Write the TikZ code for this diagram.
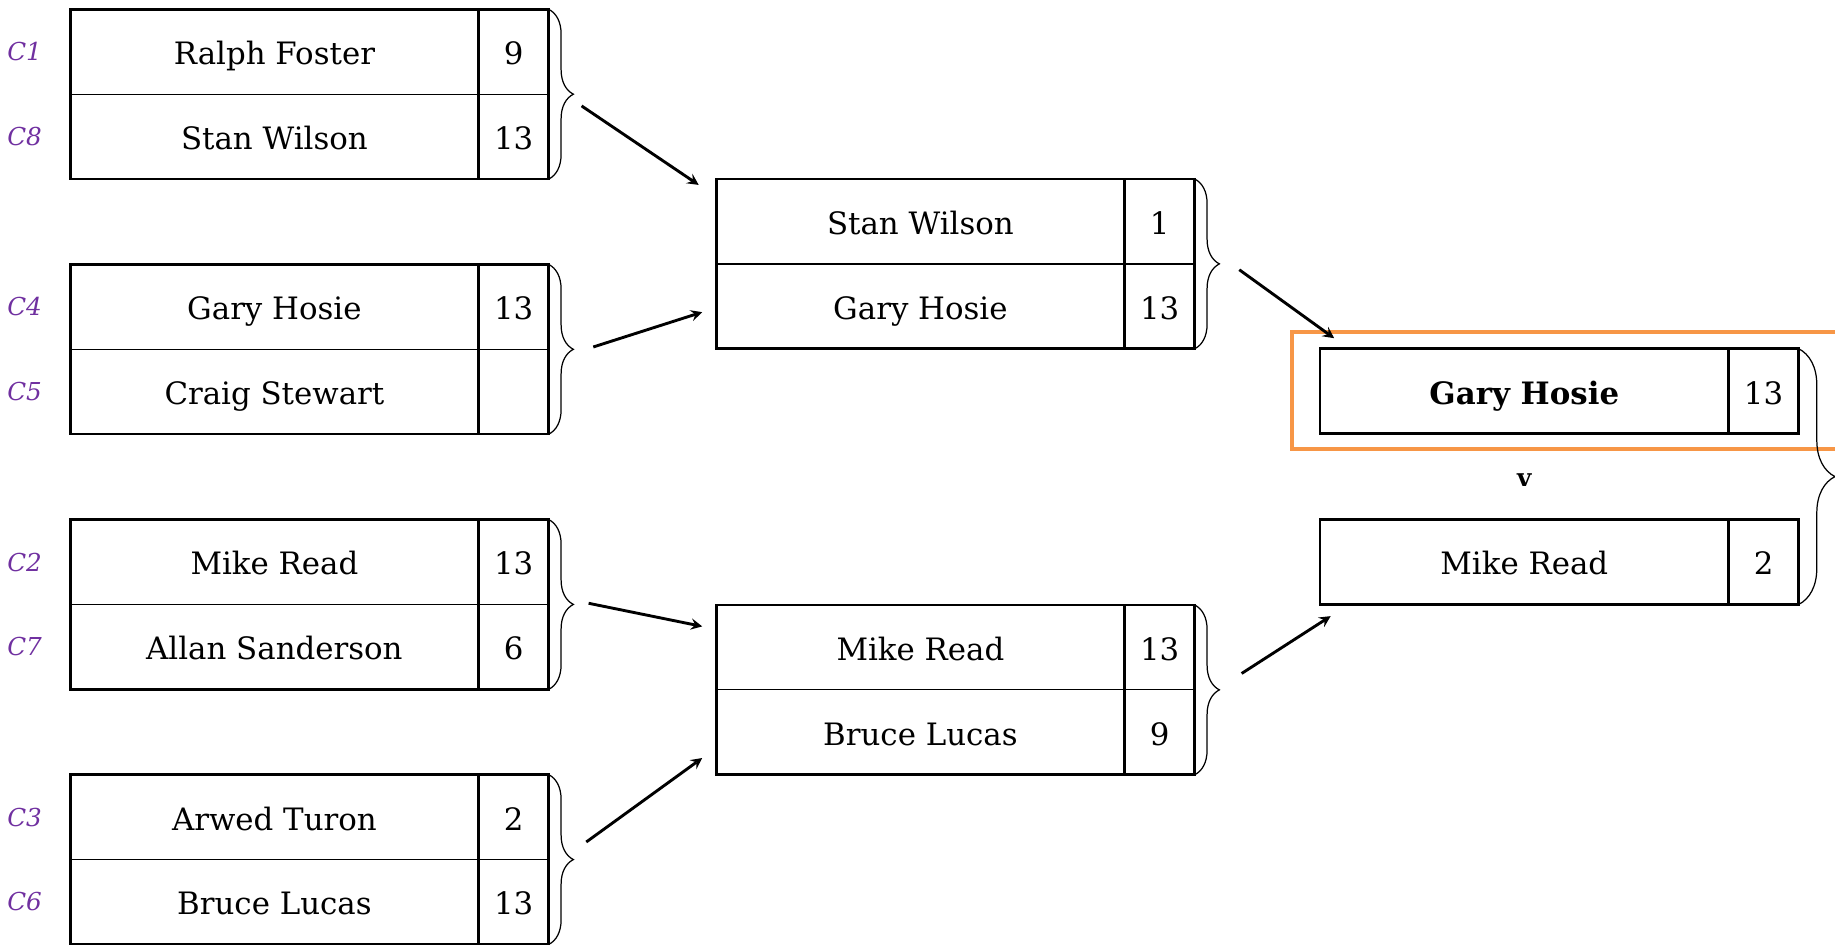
\documentclass[tikz,border=0pt]{standalone}
\usepackage[dvipsnames]{xcolor}
\usepackage{fontspec}
\setmainfont{DejaVu Serif}
\usetikzlibrary{positioning,calc,decorations.pathreplacing}
\definecolor{seedpurple}{RGB}{112,48,160}
\definecolor{winorange}{RGB}{247,150,70}

\begin{document}
\begin{tikzpicture}[x=0.02cm,y=-0.02cm,>=stealth,
    name cell/.style={draw,line width=0.6pt,minimum width=6.98cm,minimum height=1.45cm,inner sep=0pt,outer sep=0pt,text height=0.56cm,text depth=0.12cm,font=\fontsize{15}{18}\selectfont},
    score cell/.style={name cell,minimum width=1.2cm},
    seed/.style={font=\fontsize{12}{14}\selectfont\itshape,text=seedpurple},
    box line/.style={line width=1.3pt},
    bracket/.style={decorate,decoration={brace,amplitude=#1},line width=0.6pt},
    bracket/.default=0.42cm,
    win arrow/.style={->,line width=1.4pt}]
    \useasboundingbox (0,0) rectangle (1568,807);

    % first round
    \node[name cell] (c1) at (234.5,44.25) {Ralph Foster};
    \node[score cell] (c1s) [right=0pt of c1] {9};
    \node[name cell] (c8) [below=0pt of c1] {Stan Wilson};
    \node[score cell] (c8s) [right=0pt of c8] {13};

    \node[name cell] (c4) at (234.5,262.25) {Gary Hosie};
    \node[score cell] (c4s) [right=0pt of c4] {13};
    \node[name cell] (c5) [below=0pt of c4] {Craig Stewart};
    \node[score cell] (c5s) [right=0pt of c5] {};

    \node[name cell] (c2) at (234.5,480.25) {Mike Read};
    \node[score cell] (c2s) [right=0pt of c2] {13};
    \node[name cell] (c7) [below=0pt of c2] {Allan Sanderson};
    \node[score cell] (c7s) [right=0pt of c7] {6};

    \node[name cell] (c3) at (234.5,698.25) {Arwed Turon};
    \node[score cell] (c3s) [right=0pt of c3] {2};
    \node[name cell] (c6) [below=0pt of c3] {Bruce Lucas};
    \node[score cell] (c6s) [right=0pt of c6] {13};

    % seed labels
    \node[seed] (l1) [left=0.36cm of c1] {C1};
    \node[seed] (l8) [left=0.36cm of c8] {C8};
    \node[seed] (l4) [left=0.36cm of c4] {C4};
    \node[seed] (l5) [left=0.36cm of c5] {C5};
    \node[seed] (l2) [left=0.36cm of c2] {C2};
    \node[seed] (l7) [left=0.36cm of c7] {C7};
    \node[seed] (l3) [left=0.36cm of c3] {C3};
    \node[seed] (l6) [left=0.36cm of c6] {C6};

    % second round
    \node[name cell] (m1) at (786.5,189.25) {Stan Wilson};
    \node[score cell] (m1s) [right=0pt of m1] {1};
    \node[name cell] (m2) [below=0pt of m1] {Gary Hosie};
    \node[score cell] (m2s) [right=0pt of m2] {13};

    \node[name cell] (m3) at (786.5,553.25) {Mike Read};
    \node[score cell] (m3s) [right=0pt of m3] {13};
    \node[name cell] (m4) [below=0pt of m3] {Bruce Lucas};
    \node[score cell] (m4s) [right=0pt of m4] {9};

    % final
    \node[name cell,font=\fontsize{15}{18}\selectfont\bfseries] (f1) at (1302.5,334.25) {Gary Hosie};
    \node[score cell] (f1s) [right=0pt of f1] {13};
    \node[font=\fontsize{12}{14}\selectfont\bfseries] (vs) at (1302.5,410) {v};
    \node[name cell] (f2) at (1302.5,480.25) {Mike Read};
    \node[score cell] (f2s) [right=0pt of f2] {2};

    % thick outlines
    \foreach \a/\b in {c1/c8,c4/c5,c2/c7,c3/c6,m1/m2,m3/m4,f1/f1,f2/f2}{
        \draw[box line] (\a.north west) rectangle (\b s.south east);
        \draw[box line] (\a s.north west) -- (\b s.south west);
    }

    \draw[winorange,line width=2.2pt] (1580,283.5) -- (1104,283.5) -- (1104,383.5) -- (1580,383.5);

    % braces
    \draw[bracket] (c1s.north east) -- (c8s.south east);
    \draw[bracket] (c4s.north east) -- (c5s.south east);
    \draw[bracket] (c2s.north east) -- (c7s.south east);
    \draw[bracket] (c3s.north east) -- (c6s.south east);
    \draw[bracket] (m1s.north east) -- (m2s.south east);
    \draw[bracket] (m3s.north east) -- (m4s.south east);
    \draw[bracket=0.62cm] (f1s.north east) -- (f2s.south east);

    % arrow ends
    \coordinate (a1) at ($(c1s.south east)+(28,10)$);
    \coordinate (b1) at ($(m1.north west)+(-15,5)$);
    \coordinate (a2) at ($(c4s.south east)+(38,-2)$);
    \coordinate (b2) at ($(m2.west)+(-12,5)$);
    \coordinate (a3) at ($(c2s.south east)+(34,-1)$);
    \coordinate (b3) at ($(m3.west)+(-12,-18)$);
    \coordinate (a4) at ($(c3s.south east)+(32,-15)$);
    \coordinate (b4) at ($(m4.west)+(-12,22)$);
    \coordinate (a5) at ($(m1s.south east)+(38,5)$);
    \coordinate (b5) at ($(f1.north west)+(12,-9)$);
    \coordinate (a6) at ($(m3s.south east)+(40,-14)$);
    \coordinate (b6) at ($(f2.south west)+(9,10)$);

    \path[win arrow]
        (a1) edge (b1)
        (a2) edge (b2)
        (a3) edge (b3)
        (a4) edge (b4)
        (a5) edge (b5)
        (a6) edge (b6)
        ;
\end{tikzpicture}
\end{document}
